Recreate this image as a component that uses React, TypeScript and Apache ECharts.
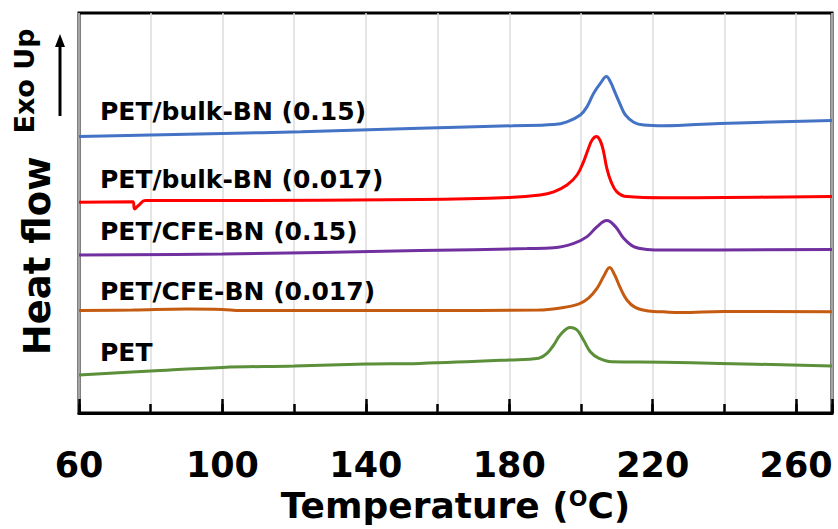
import React, { useEffect, useRef } from "react";
import * as echarts from "echarts";

// Temperatures (°C) and heat-flow values (arbitrary units)
const seriesNames = [
  "PET/bulk-BN (0.15)",
  "PET/bulk-BN (0.017)",
  "PET/CFE-BN (0.15)",
  "PET/CFE-BN (0.017)",
  "PET",
];

const bulk015T = [60, 80, 100, 122, 155, 181, 192.4, 196.1, 199.8, 201.7, 203.5, 205.4, 207.1, 208.2, 209.6, 211, 212.4, 214.7, 217.5, 223, 238.7, 270];
const bulk015Y = [69.1, 69.5, 69.9, 70.3, 71.2, 71.8, 72.1, 72.8, 74.5, 76.6, 79.9, 82.4, 84.1, 82.8, 79.9, 77.0, 74.5, 72.7, 72.0, 71.8, 72.4, 73.1];

const bulk0017T = [60, 75, 75.5, 76.5, 78.5, 100, 155, 180, 188.6, 192.4, 196.1, 198.9, 200.7, 202.1, 203.1, 204.3, 205.4, 206.3, 207.2, 208.4, 210, 212.8, 223, 240, 270];
const bulk0017Y = [52.7, 52.8, 51.0, 51.8, 53.1, 53.1, 53.4, 53.9, 54.5, 55.3, 57.0, 59.5, 62.8, 66.2, 68.25, 69.1, 68.0, 65.3, 61.2, 57.8, 55.3, 54.1, 53.8, 53.9, 54.1];

const cfe015T = [60, 100, 155, 185, 192.4, 198, 201.7, 204.5, 207.2, 209.6, 211.9, 214.7, 218.4, 223, 270];
const cfe015Y = [39.5, 39.75, 40.6, 41.1, 41.3, 42.4, 44.1, 46.6, 48.1, 46.6, 43.7, 41.6, 40.9, 40.75, 40.9];

const cfe0017T = [60, 75, 90, 100, 105, 155, 188.2, 193.8, 199.3, 202.1, 204.5, 206.3, 208, 209.4, 211, 212.8, 215.1, 218.9, 223, 227.6, 240, 270];
const cfe0017Y = [25.6, 25.75, 26.0, 25.9, 25.6, 25.6, 25.75, 26.2, 27.2, 28.7, 31.2, 34.1, 36.4, 34.5, 31.2, 28.25, 26.4, 25.5, 25.3, 25.1, 25.4, 25.3];

const petT = [60, 80, 100, 120, 140, 155, 180, 188.2, 190.5, 192.4, 194.2, 197, 198.9, 200.7, 202.6, 204.9, 208.6, 223, 238.7, 270];
const petY = [9.5, 10.5, 11.4, 11.75, 12.25, 12.4, 13.25, 13.7, 14.9, 17.0, 19.5, 21.4, 20.75, 18.25, 15.3, 13.7, 12.8, 12.7, 12.4, 11.75];

const X_MIN = 60;
const X_MAX = 270;

const zip = (xs: number[], ys: number[]) => xs.map((x, i) => [x, ys[i]]);

const FONT = "DejaVu Sans";

export default function App() {
  const ref = useRef<HTMLDivElement>(null);

  useEffect(() => {
    if (!ref.current) return;
    const chart = echarts.init(ref.current, null, { renderer: "svg" });

    const colors = ["#4472C4", "#FF0000", "#7030A0", "#C55A11", "#5B8F3A"];
    const dataSets = [
      zip(bulk015T, bulk015Y),
      zip(bulk0017T, bulk0017Y),
      zip(cfe015T, cfe015Y),
      zip(cfe0017T, cfe0017Y),
      zip(petT, petY),
    ];
    const labelY = [111, 179, 231, 291, 352];

    const option: any = {
      animation: false,
      backgroundColor: "#fff",
      grid: {
        left: 79,
        right: 6,
        top: 13,
        bottom: 116,
        show: true,
        borderColor: "#000",
        borderWidth: 3,
        backgroundColor: "transparent",
      },
      xAxis: [
        {
          type: "value",
          min: X_MIN,
          max: X_MAX,
          interval: 20,
          position: "bottom",
          axisLine: { show: true, lineStyle: { color: "#000", width: 3 } },
          axisTick: { show: true, inside: true, length: 9, lineStyle: { color: "#000", width: 2.5 } },
          axisLabel: { show: false },
          splitLine: { show: true, lineStyle: { color: "#DDDDDD", width: 1.5 } },
        },
        {
          type: "value",
          min: 0,
          max: X_MAX - X_MIN,
          interval: 40,
          position: "bottom",
          axisLine: { show: false },
          axisTick: { show: true, inside: true, length: 14, lineStyle: { color: "#000", width: 2.5 } },
          splitLine: { show: false },
          axisLabel: {
            show: true,
            margin: 34,
            color: "#000",
            fontFamily: FONT,
            fontWeight: "bold",
            fontSize: 35,
            formatter: (v: number) => (v % 40 === 0 ? String(v + X_MIN) : ""),
          },
          name: "Temperature ({sup|O}C)",
          nameLocation: "middle",
          nameGap: 74,
          nameTextStyle: {
            color: "#000",
            fontFamily: FONT,
            fontWeight: "bold",
            fontSize: 36,
            rich: {
              sup: {
                fontFamily: FONT,
                fontWeight: "bold",
                fontSize: 22,
                color: "#000",
                verticalAlign: "top",
              },
            },
          },
        },
      ],
      yAxis: {
        type: "value",
        min: 0,
        max: 100,
        show: false,
      },
      series: dataSets.map((d, i) => ({
        type: "line",
        name: seriesNames[i],
        data: d,
        xAxisIndex: 0,
        showSymbol: false,
        symbol: "none",
        smooth: 0.4,
        lineStyle: { color: colors[i], width: 3 },
        z: 3,
      })),
      graphic: [
        ...seriesNames.map((n, i) => ({
          type: "text",
          x: 100,
          y: labelY[i],
          style: {
            text: n,
            fill: "#000",
            font: `bold 25px "${FONT}"`,
            textAlign: "left",
            textVerticalAlign: "middle",
          },
          z: 10,
        })),
        {
          type: "text",
          x: 37,
          y: 256,
          rotation: Math.PI / 2,
          style: {
            text: "Heat flow",
            fill: "#000",
            font: `bold 37px "${FONT}"`,
            textAlign: "center",
            textVerticalAlign: "middle",
          },
        },
        {
          type: "text",
          x: 24,
          y: 81,
          rotation: Math.PI / 2,
          style: {
            text: "Exo Up",
            fill: "#000",
            font: `bold 27px "${FONT}"`,
            textAlign: "center",
            textVerticalAlign: "middle",
          },
        },
        {
          type: "line",
          shape: { x1: 60, y1: 116, x2: 60, y2: 44 },
          style: { stroke: "#000", lineWidth: 3 },
        },
        {
          type: "polygon",
          shape: { points: [[60, 34], [55, 47], [65, 47]] },
          style: { fill: "#000" },
        },
      ],
    };

    chart.setOption(option);
    return () => chart.dispose();
  }, []);

  return (
    <div
      ref={ref}
      style={{ position: "fixed", left: 0, top: 0, width: 838, height: 529, background: "#fff" }}
    />
  );
}
